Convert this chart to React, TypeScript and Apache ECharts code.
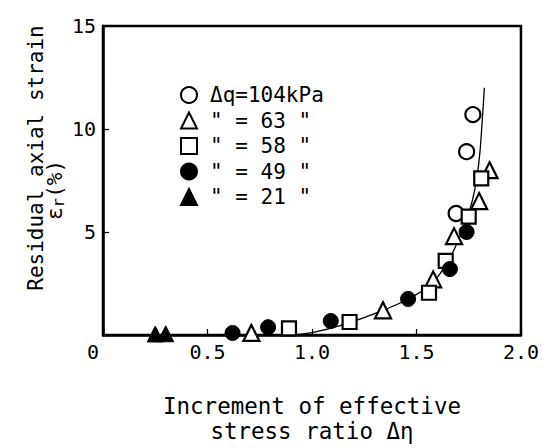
import React, { useEffect, useRef } from "react";
import * as echarts from "echarts";

// Δq = 104 kPa (open circles)
const q104: [number, number][] = [[1.69, 5.9], [1.74, 8.9], [1.77, 10.7]];
// Δq = 63 kPa (open triangles)
const q63: [number, number][] = [[0.71, 0.1], [1.34, 1.2], [1.58, 2.7], [1.68, 4.8], [1.80, 6.5], [1.85, 8.0]];
// Δq = 58 kPa (open squares)
const q58: [number, number][] = [[0.89, 0.32], [1.18, 0.63], [1.56, 2.05], [1.64, 3.6], [1.75, 5.75], [1.81, 7.6]];
// Δq = 49 kPa (filled circles)
const q49: [number, number][] = [[0.62, 0.1], [0.79, 0.38], [1.09, 0.68], [1.46, 1.75], [1.66, 3.2], [1.74, 5.0]];
// Δq = 21 kPa (filled triangles)
const q21: [number, number][] = [[0.25, 0.05], [0.30, 0.06]];
// fitted curve
const curve: [number, number][] = [
  [0.88, 0.0], [1.0, 0.12], [1.18, 0.6], [1.34, 1.2], [1.46, 1.75], [1.56, 2.4],
  [1.64, 3.4], [1.70, 4.6], [1.75, 5.9], [1.78, 7.1], [1.80, 8.5], [1.812, 10.0], [1.825, 12.0],
];

const names = ["Δq=104kPa", '" = 63 "', '" = 58 "', '" = 49 "', '" = 21 "'];
const xTicks = [0, 0.5, 1.0, 1.5, 2.0];
const yTicks = [0, 5, 10, 15];

const MONO = "DejaVu Sans Mono";

export default function App() {
  const ref = useRef<HTMLDivElement>(null);
  useEffect(() => {
    if (!ref.current) return;
    document.body.style.margin = "0";
    const chart = echarts.init(ref.current, undefined, { renderer: "svg" });
    const open = { color: "#fff", borderColor: "#000", borderWidth: 2.2, opacity: 1 };
    const filled = { color: "#000", borderColor: "#000", borderWidth: 1, opacity: 1 };
    const sc = (name: string, data: [number, number][], symbol: string, size: number, style: any) => ({
      name, type: "scatter", data, symbol, symbolSize: size, itemStyle: style, z: 3,
    });
    chart.setOption({
      animation: false,
      backgroundColor: "#fff",
      grid: {
        left: 103, right: 18, top: 26, bottom: 112, show: true,
        borderColor: "#000", borderWidth: 2.5, backgroundColor: "transparent",
      },
      legend: {
        data: names,
        orient: "vertical",
        left: 175,
        top: 79,
        itemWidth: 16,
        itemHeight: 16,
        itemGap: 3.5,
        textStyle: { fontFamily: MONO, fontSize: 21, color: "#000", lineHeight: 22, padding: [0, 0, 0, 8] },
        selectedMode: false,
      },
      xAxis: {
        type: "value", min: xTicks[0], max: xTicks[xTicks.length - 1], interval: 0.5,
        name: "Increment of effective\nstress ratio Δη",
        nameLocation: "middle", nameGap: 58,
        nameTextStyle: { fontFamily: MONO, fontSize: 22.5, color: "#000", lineHeight: 25 },
        axisLine: { show: true, lineStyle: { color: "#000", width: 2.5 } },
        axisTick: { show: true, inside: true, length: 6, lineStyle: { color: "#000", width: 1.2 } },
        axisLabel: {
          fontFamily: MONO, fontSize: 20, color: "#000", margin: 7,
          formatter: (v: number) => (v === 0 ? "{z|0}" : v.toFixed(1)),
          rich: { z: { fontFamily: MONO, fontSize: 20, color: "#000", padding: [0, 20, 0, 0] } },
        },
        splitLine: { show: false },
      },
      yAxis: {
        type: "value", min: yTicks[0], max: yTicks[yTicks.length - 1], interval: 5,
        axisLine: { show: true, lineStyle: { color: "#000", width: 2.5 } },
        axisTick: { show: true, inside: true, length: 6, lineStyle: { color: "#000", width: 1.2 } },
        axisLabel: {
          fontFamily: MONO, fontSize: 20, color: "#000", margin: 7,
          formatter: (v: number) => (v === 0 ? "" : String(v)),
        },
        splitLine: { show: false },
      },
      graphic: [
        {
          type: "text", x: 36, y: 158, rotation: Math.PI / 2, z: 10,
          style: {
            text: "Residual axial strain", fontFamily: MONO, fontSize: 21, fill: "#000",
            align: "center", verticalAlign: "middle",
          },
        },
        {
          type: "text", x: 55, y: 190, rotation: Math.PI / 2, z: 10,
          style: {
            text: "{a|ε}{b|r}{a|(%)}",
            align: "center", verticalAlign: "middle",
            rich: {
              a: { fontFamily: MONO, fontSize: 21, fill: "#000" },
              b: { fontFamily: MONO, fontSize: 16, fill: "#000", verticalAlign: "bottom", padding: [6, 0, 0, 0] },
            },
          },
        },
      ],
      series: [
        sc(names[0], q104, "circle", 15, open),
        sc(names[1], q63, "triangle", 16, open),
        sc(names[2], q58, "rect", 14, open),
        sc(names[3], q49, "circle", 15, filled),
        sc(names[4], q21, "triangle", 16, filled),
        {
          type: "line", data: curve, smooth: true, showSymbol: false, symbol: "none",
          lineStyle: { color: "#000", width: 1.3 }, z: 2, silent: true,
        },
      ],
    });
    return () => chart.dispose();
  }, []);
  return <div ref={ref} style={{ width: 542, height: 448 }} />;
}
